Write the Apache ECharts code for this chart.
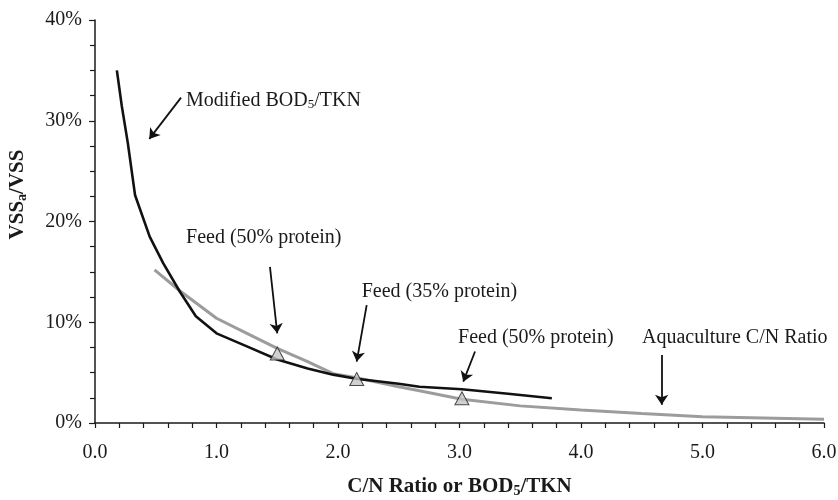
<!DOCTYPE html>
<html>
<head>
<meta charset="utf-8">
<script src="https://cdn.jsdelivr.net/npm/echarts@6/dist/echarts.min.js"></script>
<style>
  html, body { margin: 0; padding: 0; background: #fff; }
  #main { width: 838px; height: 500px; }
</style>
</head>
<body>
<div id="main"></div>
<script>
// Modified BOD5/TKN curve (x = ratio, y = %)
const modX = [0.18, 0.22, 0.27, 0.33, 0.45, 0.56, 0.70, 0.83, 1.0, 1.25, 1.5, 1.75, 1.96, 2.15, 2.5, 2.67, 3.02, 3.4, 3.76];
const modY = [35.0, 31.5, 27.8, 22.6, 18.5, 15.9, 13.0, 10.6, 8.9, 7.6, 6.3, 5.4, 4.8, 4.4, 3.9, 3.6, 3.35, 2.9, 2.45];

// Aquaculture C/N ratio curve
const aquaX = [0.49, 0.70, 1.0, 1.25, 1.5, 1.75, 1.96, 2.15, 2.5, 2.67, 3.02, 3.5, 4.0, 4.5, 5.0, 5.5, 6.0];
const aquaY = [15.2, 13.1, 10.4, 8.9, 7.4, 6.1, 4.9, 4.5, 3.6, 3.2, 2.35, 1.7, 1.3, 0.95, 0.63, 0.5, 0.37];

// feed points (triangles)
const feedX = [1.5, 2.154, 3.02];
const feedY = [6.9, 4.37, 2.45];

// annotation texts and arrows, in data units
const noteText = ['Modified BOD{sub|5}/TKN', 'Feed (50% protein)', 'Feed (35% protein)', 'Feed (50% protein)', 'Aquaculture C/N Ratio'];
const noteX = [0.749, 0.749, 2.195, 2.988, 4.502];
const noteY = [31.97, 18.37, 13.04, 8.44, 8.44];
const arrowFrom = [[0.708, 32.3], [1.44, 15.5], [2.236, 11.7], [3.128, 7.1], [4.664, 6.75]];
const arrowTo = [[0.447, 28.2], [1.5, 8.9], [2.154, 6.1], [3.031, 4.1], [4.664, 1.8]];

const xTicks = [0, 1, 2, 3, 4, 5, 6];
const yTicks = [0, 10, 20, 30, 40];

const font = 'Liberation Serif, Times New Roman, serif';
const ink = '#1a1a1a';

const chartDom = document.getElementById('main');
const myChart = echarts.init(chartDom);

const zip = (xs, ys) => xs.map((x, i) => [x, ys[i]]);

const subStyle = { fontFamily: font, fontSize: 13, verticalAlign: 'bottom', padding: [8, 0, 0, 0], color: ink };
const subBold = Object.assign({}, subStyle, { fontWeight: 'bold', fontSize: 14 });

const option = {
  animation: false,
  backgroundColor: '#fff',
  textStyle: { fontFamily: font },
  grid: { left: 95, right: 14, top: 20, bottom: 77, outerBoundsMode: 'none', containLabel: false },
  xAxis: {
    type: 'value',
    min: xTicks[0],
    max: xTicks[xTicks.length - 1],
    interval: 1,
    name: 'C/N Ratio or BOD{sub|5}/TKN',
    nameLocation: 'middle',
    nameGap: 53,
    nameTextStyle: { fontFamily: font, fontSize: 21, fontWeight: 'bold', color: ink, rich: { sub: subBold } },
    axisLine: { lineStyle: { color: ink, width: 1.5 } },
    axisTick: { length: 5, lineStyle: { color: ink, width: 1.2 } },
    minorTick: { show: true, splitNumber: 5, length: 5, lineStyle: { color: ink, width: 1.2 } },
    axisLabel: { margin: 20, fontFamily: font, fontSize: 20, color: ink, formatter: v => v.toFixed(1) },
    splitLine: { show: false }
  },
  yAxis: {
    type: 'value',
    min: yTicks[0],
    max: yTicks[yTicks.length - 1],
    interval: 10,
    name: 'VSS{sub|a}/VSS',
    nameLocation: 'middle',
    nameGap: 66,
    nameTextStyle: { fontFamily: font, fontSize: 21, fontWeight: 'bold', color: ink, padding: [0, 0, 0, 54], rich: { sub: subBold } },
    axisLine: { show: true, lineStyle: { color: ink, width: 1.5 } },
    axisTick: { show: true, length: 6, lineStyle: { color: ink, width: 1.2 } },
    minorTick: { show: true, splitNumber: 4, length: 5, lineStyle: { color: ink, width: 1.2 } },
    axisLabel: { margin: 13, fontFamily: font, fontSize: 20, color: ink, formatter: '{value}%' },
    splitLine: { show: false }
  },
  series: [
    {
      name: 'Aquaculture C/N Ratio',
      type: 'line',
      data: zip(aquaX, aquaY),
      symbol: 'none',
      lineStyle: { color: '#9c9c9c', width: 3 },
      z: 2
    },
    {
      name: 'Modified BOD5/TKN',
      type: 'line',
      data: zip(modX, modY),
      symbol: 'none',
      lineStyle: { color: '#111', width: 2.6 },
      z: 3,
      markLine: {
        silent: true,
        symbol: ['none', 'arrow'],
        symbolSize: 10,
        label: { show: false },
        lineStyle: { color: '#111', width: 1.8, type: 'solid' },
        data: arrowFrom.map((p, i) => [{ coord: p }, { coord: arrowTo[i] }])
      },
      markPoint: {
        silent: true,
        symbol: 'circle',
        symbolSize: 0,
        label: {
          show: true,
          position: 'right',
          distance: 0,
          fontFamily: font,
          fontSize: 20,
          color: ink,
          formatter: p => p.name,
          rich: { sub: subStyle }
        },
        data: noteText.map((t, i) => ({ name: t, coord: [noteX[i], noteY[i]] }))
      }
    },
    {
      name: 'Feed',
      type: 'scatter',
      data: zip(feedX, feedY),
      symbol: 'triangle',
      symbolSize: [14, 13],
      itemStyle: { color: '#c4c4c4', borderColor: '#222', borderWidth: 1 },
      z: 5
    }
  ]
};

myChart.setOption(option);

window.addEventListener('resize', () => {
  myChart.resize();
});
</script>
</body>
</html>
